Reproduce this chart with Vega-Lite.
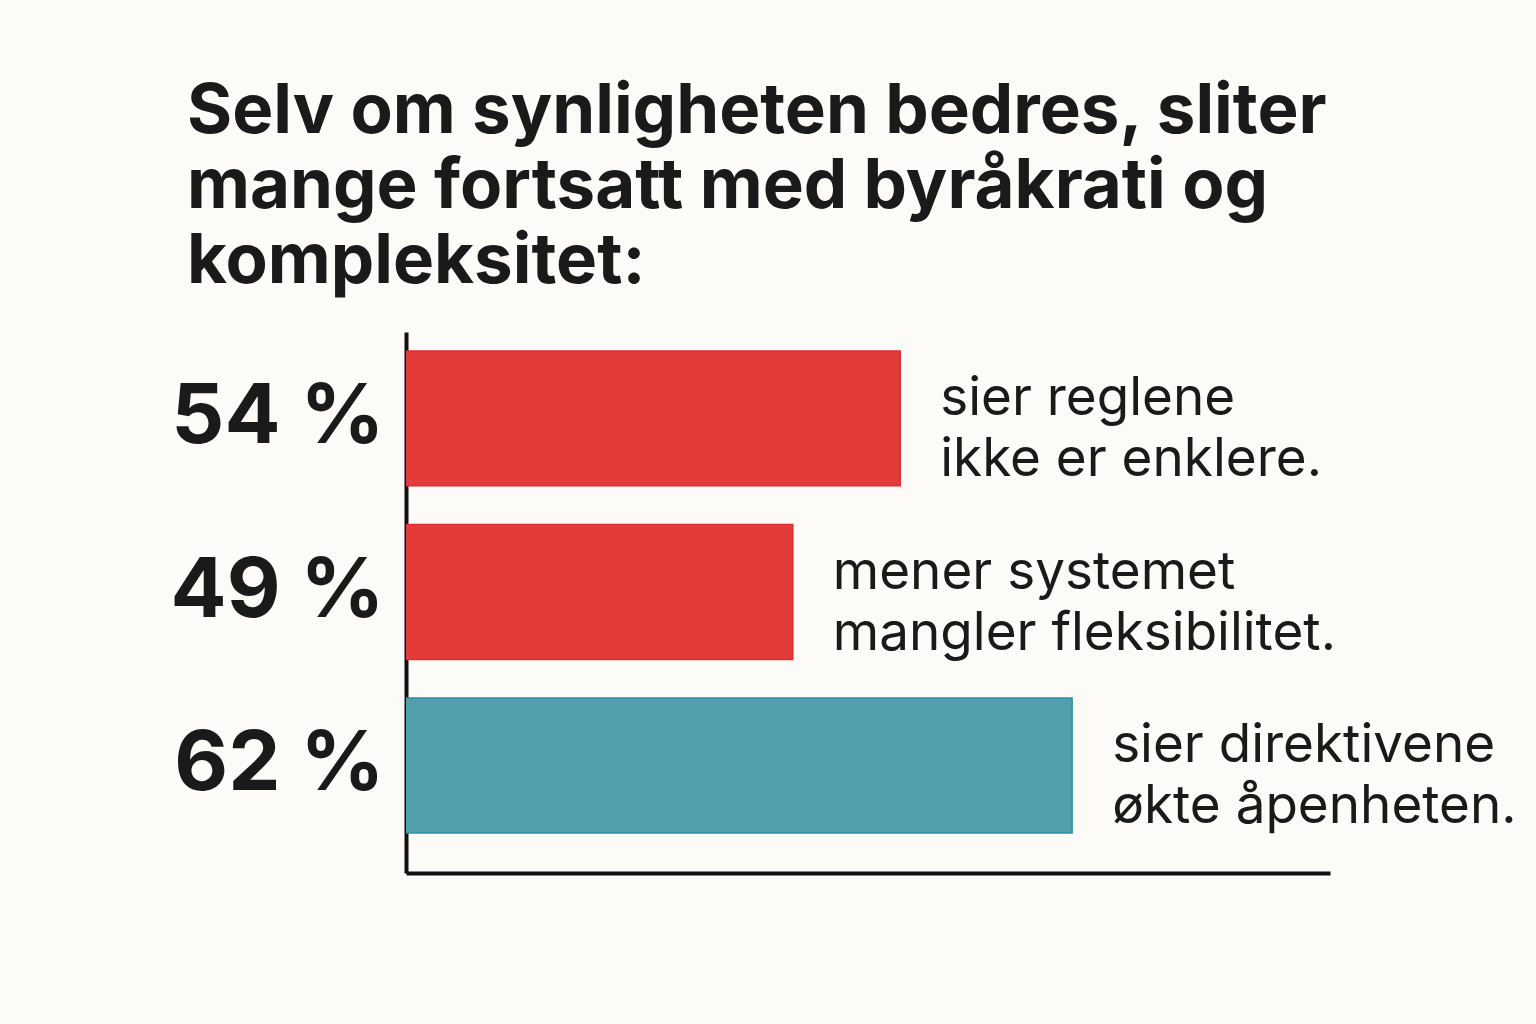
{
  "$schema": "https://vega.github.io/schema/vega-lite/v6.json",
  "width": 924,
  "height": 541,
  "autosize": "none",
  "padding": {"left": 406, "top": 332, "right": 206, "bottom": 151},
  "background": "#fcfbf7",
  "title": {
    "text": ["Selv om synligheten bedres, sliter", "mange fortsatt med byråkrati og", "kompleksitet:"],
    "anchor": "start",
    "frame": "bounds",
    "font": "Inter",
    "fontSize": 69,
    "fontWeight": "bold",
    "color": "#1a1a1a",
    "lineHeight": 75,
    "offset": 35,
    "dx": 17
  },
  "config": {"view": {"stroke": null}},
  "data": {
    "values": [
      {"andel": 54, "etikett": "54 %", "tekst": ["sier reglene", "ikke er enklere."], "tema": "Byråkrati"},
      {"andel": 49, "etikett": "49 %", "tekst": ["mener systemet", "mangler fleksibilitet."], "tema": "Byråkrati"},
      {"andel": 62, "etikett": "62 %", "tekst": ["sier direktivene", "økte åpenheten."], "tema": "Åpenhet"}
    ]
  },
  "encoding": {
    "y": {
      "field": "etikett",
      "type": "nominal",
      "sort": null,
      "scale": {"paddingInner": 0.222, "paddingOuter": 0.17, "align": 0.32},
      "axis": {
        "title": null,
        "ticks": false,
        "domainColor": "#111111",
        "domainWidth": 4,
        "labelFont": "Inter",
        "labelFontSize": 83,
        "labelFontWeight": "bold",
        "labelColor": "#1a1a1a",
        "labelPadding": 22,
        "labelLimit": 500
      }
    },
    "x": {
      "field": "andel",
      "type": "quantitative",
      "scale": {"domain": [31, 74], "zero": false},
      "axis": {"title": null, "labels": false, "ticks": false, "grid": false, "domainColor": "#111111", "domainWidth": 4}
    }
  },
  "layer": [
    {
      "mark": {"type": "bar", "strokeWidth": 1.5, "clip": true},
      "encoding": {
        "color": {"field": "tema", "type": "nominal", "scale": {"domain": ["Byråkrati", "Åpenhet"], "range": ["#e23b3a", "#52a0ad"]}, "legend": null},
        "stroke": {"field": "tema", "type": "nominal", "scale": {"domain": ["Byråkrati", "Åpenhet"], "range": ["#d8302f", "#2f919f"]}, "legend": null}
      }
    },
    {
      "mark": {"type": "text", "align": "left", "baseline": "middle", "dx": 40, "dy": -19, "font": "Inter", "fontSize": 53, "lineHeight": 61, "color": "#1a1a1a"},
      "encoding": {"text": {"field": "tekst"}}
    }
  ]
}
